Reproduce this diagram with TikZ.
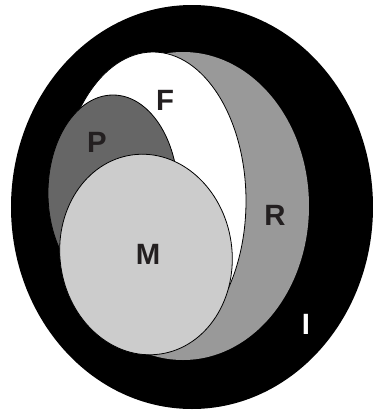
\documentclass[tikz,border=0pt]{standalone}
\usepackage{fontspec}
\setmainfont{Liberation Sans}
\definecolor{labtext}{HTML}{231F20}
\definecolor{rgray}{HTML}{999999}
\definecolor{pgray}{HTML}{666666}
\definecolor{mgray}{HTML}{CCCCCC}
\begin{document}
\begin{tikzpicture}[x=0.75pt,y=-0.75pt,
  lab/.style={font=\bfseries\fontsize{22}{22}\selectfont, text=labtext, inner sep=0pt},
  setline/.style={draw=black, line width=0.6pt}]
\useasboundingbox (0,0) rectangle (373,412);
% I: outer black
\fill[black] (192,207) ellipse [x radius=135.75pt, y radius=151.5pt];
% R
\fill[rgray] (183,206) ellipse [x radius=94.5pt, y radius=115.5pt];
% F
\filldraw[fill=white, setline] (153,201) ellipse [x radius=69.75pt, y radius=111.75pt];
% P
\filldraw[fill=pgray, setline] (113,193) ellipse [x radius=48.75pt, y radius=73.5pt];
% M
\filldraw[fill=mgray, setline, rotate around={8:(146,254.5)}] (146,254.5) ellipse [x radius=64.5pt, y radius=75.4pt];
% labels
\node[lab] (F) at (165,100) {F};
\node[lab] (P) at (97,142) {P};
\node[lab] (R) at (275,215) {R};
\node[lab] (M) at (148,254) {M};
\node[lab, text=white] (I) at (306,324) {I};
\end{tikzpicture}
\end{document}
